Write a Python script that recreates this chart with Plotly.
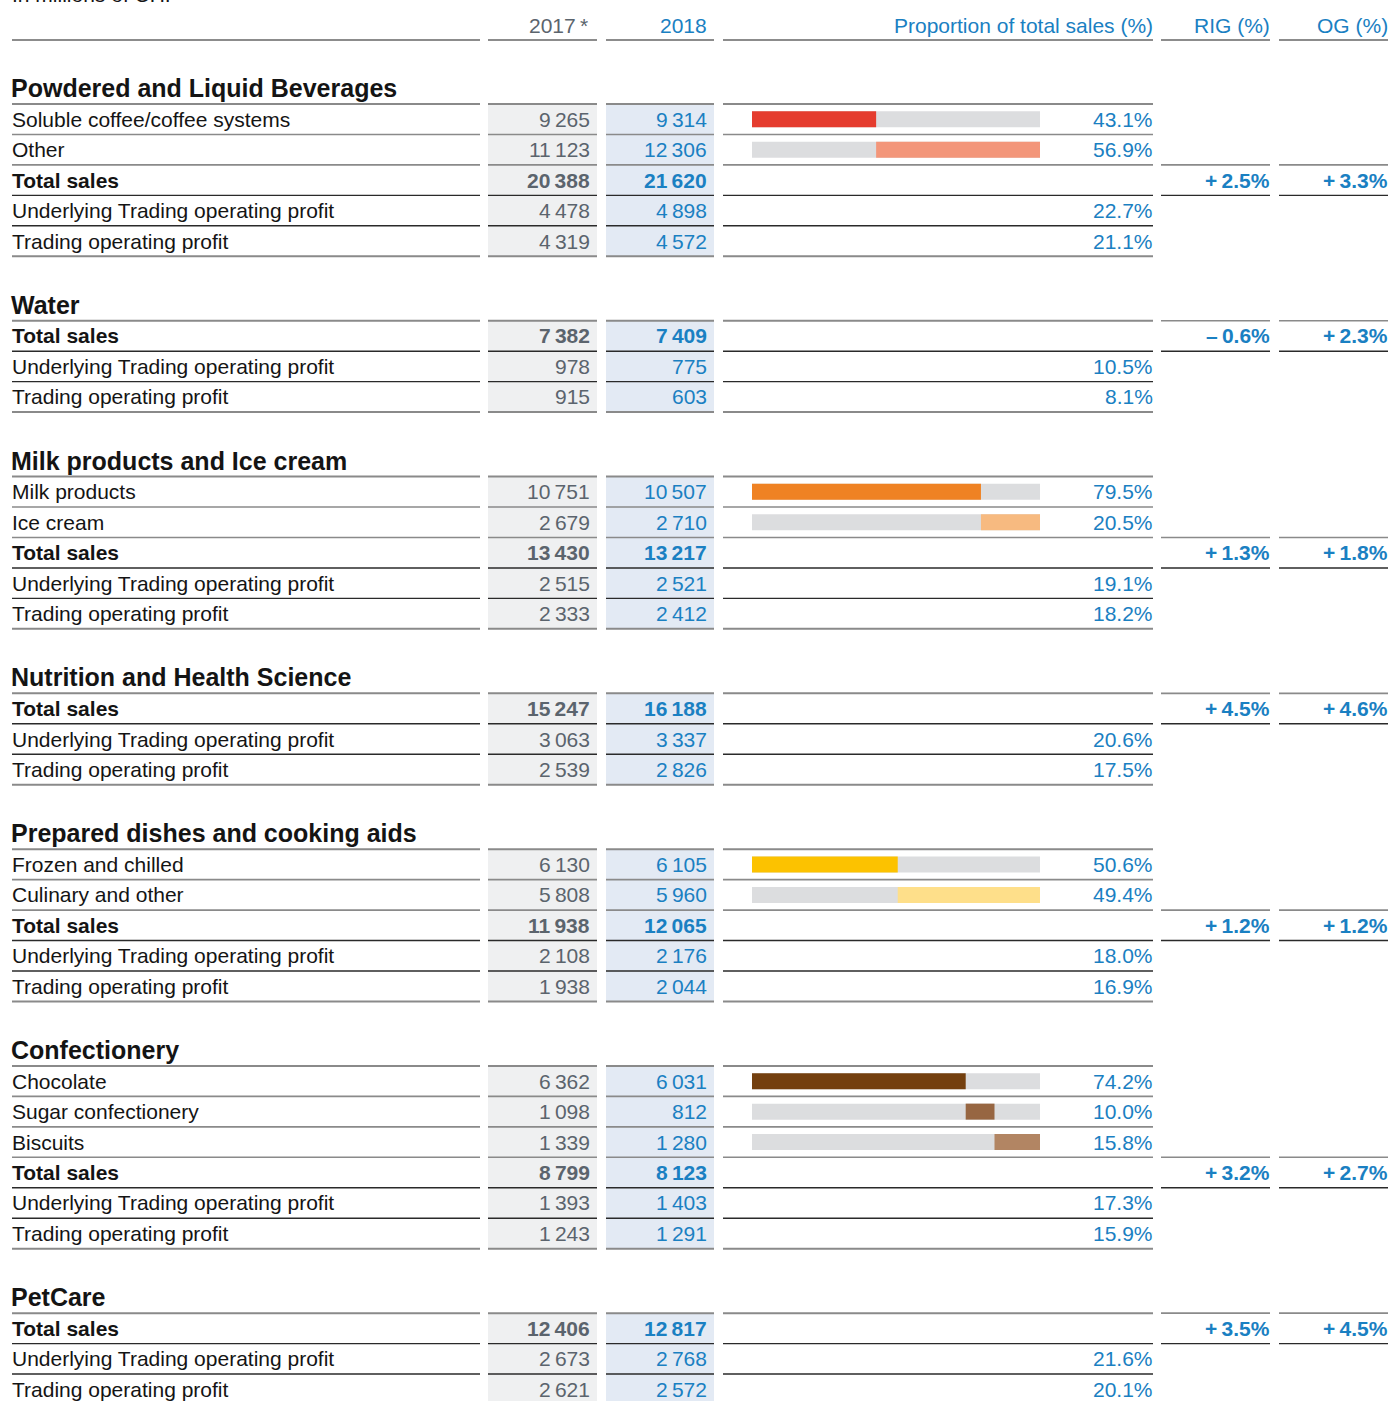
import plotly.graph_objects as go

# ---------------- data ----------------
group_names = ["Powdered and Liquid Beverages", "Water", "Milk products and Ice cream",
               "Nutrition and Health Science", "Prepared dishes and cooking aids",
               "Confectionery", "PetCare"]
sub_labels = [["Soluble coffee/coffee systems", "Other"], [], ["Milk products", "Ice cream"], [],
              ["Frozen and chilled", "Culinary and other"],
              ["Chocolate", "Sugar confectionery", "Biscuits"], []]
sub_2017 = [[9265, 11123], [], [10751, 2679], [], [6130, 5808], [6362, 1098, 1339], []]
sub_2018 = [[9314, 12306], [], [10507, 2710], [], [6105, 5960], [6031, 812, 1280], []]
sub_share = [[43.1, 56.9], [], [79.5, 20.5], [], [50.6, 49.4], [74.2, 10.0, 15.8], []]
total_2017 = [20388, 7382, 13430, 15247, 11938, 8799, 12406]
total_2018 = [21620, 7409, 13217, 16188, 12065, 8123, 12817]
utop_2017 = [4478, 978, 2515, 3063, 2108, 1393, 2673]
utop_2018 = [4898, 775, 2521, 3337, 2176, 1403, 2768]
utop_margin = [22.7, 10.5, 19.1, 20.6, 18.0, 17.3, 21.6]
top_2017 = [4319, 915, 2333, 2539, 1938, 1243, 2621]
top_2018 = [4572, 603, 2412, 2826, 2044, 1291, 2572]
top_margin = [21.1, 8.1, 18.2, 17.5, 16.9, 15.9, 20.1]
rig = [2.5, -0.6, 1.3, 4.5, 1.2, 3.2, 3.5]
og = [3.3, 2.3, 1.8, 4.6, 1.2, 2.7, 4.5]
header_labels = ["2017\u2009*", "2018", "Proportion of total sales (%)", "RIG (%)", "OG (%)"]
unit_label = "In millions of CHF"

# ---------------- style ----------------
sub_colors = [["#e53c2e", "#f3967a"], [], ["#ef8223", "#f7ba80"], [],
              ["#fcc200", "#fedf8a"], ["#74400f", "#976642", "#b28563"], []]
W, H = 1390, 1401
ROW_H = 30.45
GAP = 64.5
FIRST_TOP = 104
FONT = "Liberation Sans, Arial, sans-serif"
FS = 21
TITLE_FS = 25
BLACK = "#141414"
GRAY_TXT = "#5b646d"
BLUE = "#1a80c2"
BG17 = "#eff0f1"
BG18 = "#e3eaf4"
TRACK = "#dcdddf"
LINE_GRAY = "#8a8a8a"
LINE_DARK = "#2a2a2a"
COLS = {"label": (12, 480), "y17": (488, 597), "y18": (606, 714),
        "prop": (723, 1153), "rig": (1161, 1270), "og": (1279, 1388)}
X_R17, X_R18, X_PCT, X_RIG, X_OG = 592, 709, 1155, 1272, 1390
BAR_DOMAIN = (752, 1040)
BAR_H = 16


def fmt(v):
    return f"{v:,}".replace(",", "\u2009")


def fmt_growth(v):
    sign = "+" if v >= 0 else "\u2013"
    return f"{sign}\u2009{abs(v):.1f}%"


ann = []
shapes = []


def text(x, y, s, color, anchor="right", size=FS, bold=False):
    ann.append(dict(x=x, y=y, xref="x", yref="y", text=f"<b>{s}</b>" if bold else s,
                    xanchor=anchor, yanchor="middle", showarrow=False,
                    font=dict(family=FONT, size=size, color=color)))


def hline(col, y, color, width):
    x0, x1 = COLS[col]
    shapes.append(dict(type="line", xref="x", yref="y", x0=x0, x1=x1, y0=y, y1=y,
                       line=dict(color=color, width=width), layer="above"))


# header
ann.append(dict(x=10 / W, y=1 + 5 / H, xref="paper", yref="paper", text=unit_label, xanchor="left",
                yanchor="middle", showarrow=False, font=dict(family=FONT, size=FS, color=BLACK)))
text(X_R17 - 2, 25, header_labels[0], GRAY_TXT)
text(X_R18, 25, header_labels[1], BLUE)
text(X_PCT, 25, header_labels[2], BLUE)
text(X_RIG, 25, header_labels[3], BLUE)
text(X_OG, 25, header_labels[4], BLUE)
for c in COLS:
    hline(c, 40, "#666666", 1.6)

track_y, seg_y, seg_base, seg_len, seg_col = [], [], [], [], []

y0 = FIRST_TOP
for g in range(len(group_names)):
    rows = []
    for lab, a, b, s in zip(sub_labels[g], sub_2017[g], sub_2018[g], sub_share[g]):
        rows.append((lab, a, b, s, "sub"))
    rows.append(("Total sales", total_2017[g], total_2018[g], None, "total"))
    rows.append(("Underlying Trading operating profit", utop_2017[g], utop_2018[g], utop_margin[g], "m"))
    rows.append(("Trading operating profit", top_2017[g], top_2018[g], top_margin[g], "m"))
    n = len(rows)
    t_idx = len(sub_labels[g])
    y1 = y0 + n * ROW_H

    # group title
    text(9, y0 - 16, group_names[g], BLACK, anchor="left", size=TITLE_FS, bold=True)

    # column backgrounds
    for col, colr in (("y17", BG17), ("y18", BG18)):
        x0, x1 = COLS[col]
        shapes.append(dict(type="rect", xref="x", yref="y", x0=x0, x1=x1, y0=y0, y1=y1,
                           fillcolor=colr, line=dict(width=0), layer="below"))

    # row lines
    for k in range(n + 1):
        yy = y0 + k * ROW_H
        if k == 0 or k == n:
            colr, wd = LINE_GRAY, 2
        elif k <= t_idx:
            colr, wd = LINE_GRAY, 1.6
        else:
            colr, wd = LINE_DARK, 1.4
        for c in ("label", "y17", "y18", "prop"):
            hline(c, yy, colr, wd)
    hline("rig", y0 + t_idx * ROW_H, LINE_GRAY, 1.6)
    hline("og", y0 + t_idx * ROW_H, LINE_GRAY, 1.6)
    hline("rig", y0 + (t_idx + 1) * ROW_H, LINE_DARK, 1.4)
    hline("og", y0 + (t_idx + 1) * ROW_H, LINE_DARK, 1.4)

    cum = 0.0
    for i, (lab, a, b, s, kind) in enumerate(rows):
        yc = y0 + (i + 0.5) * ROW_H
        bold = kind == "total"
        text(10, yc, lab, BLACK, anchor="left", bold=bold)
        text(X_R17, yc, fmt(a), GRAY_TXT, bold=bold)
        text(X_R18, yc, fmt(b), BLUE, bold=bold)
        if s is not None:
            text(X_PCT, yc, f"{s:.1f}%", BLUE)
        if kind == "sub":
            track_y.append(yc)
            seg_y.append(yc)
            seg_base.append(cum)
            seg_len.append(s)
            seg_col.append(sub_colors[g][i])
            cum += s
        if kind == "total":
            text(X_RIG, yc, fmt_growth(rig[g]), BLUE, bold=True)
            text(X_OG, yc, fmt_growth(og[g]), BLUE, bold=True)
    y0 = y1 + GAP

fig = go.Figure()
fig.add_trace(go.Bar(orientation="h", y=track_y, x=[100] * len(track_y), base=[0] * len(track_y),
                     width=BAR_H, marker=dict(color=TRACK, line=dict(width=0)),
                     xaxis="x2", yaxis="y", hoverinfo="skip", showlegend=False))
fig.add_trace(go.Bar(orientation="h", y=seg_y, x=seg_len, base=seg_base, width=BAR_H,
                     marker=dict(color=seg_col, line=dict(width=0)),
                     xaxis="x2", yaxis="y", hoverinfo="skip", showlegend=False))

fig.update_layout(
    width=W, height=H, margin=dict(l=0, r=0, t=0, b=0),
    paper_bgcolor="white", plot_bgcolor="rgba(0,0,0,0)",
    barmode="overlay", showlegend=False,
    xaxis=dict(range=[0, W], visible=False, fixedrange=True),
    xaxis2=dict(range=[0, 100], domain=[BAR_DOMAIN[0] / W, BAR_DOMAIN[1] / W], anchor="y",
                visible=False, fixedrange=True),
    yaxis=dict(range=[H, 0], visible=False, fixedrange=True),
    annotations=ann, shapes=shapes,
)
fig.write_html("out.html", include_plotlyjs=True,
               config={"displayModeBar": False, "staticPlot": True},
               post_script="document.body.style.margin='0';document.body.style.overflow='hidden';")
